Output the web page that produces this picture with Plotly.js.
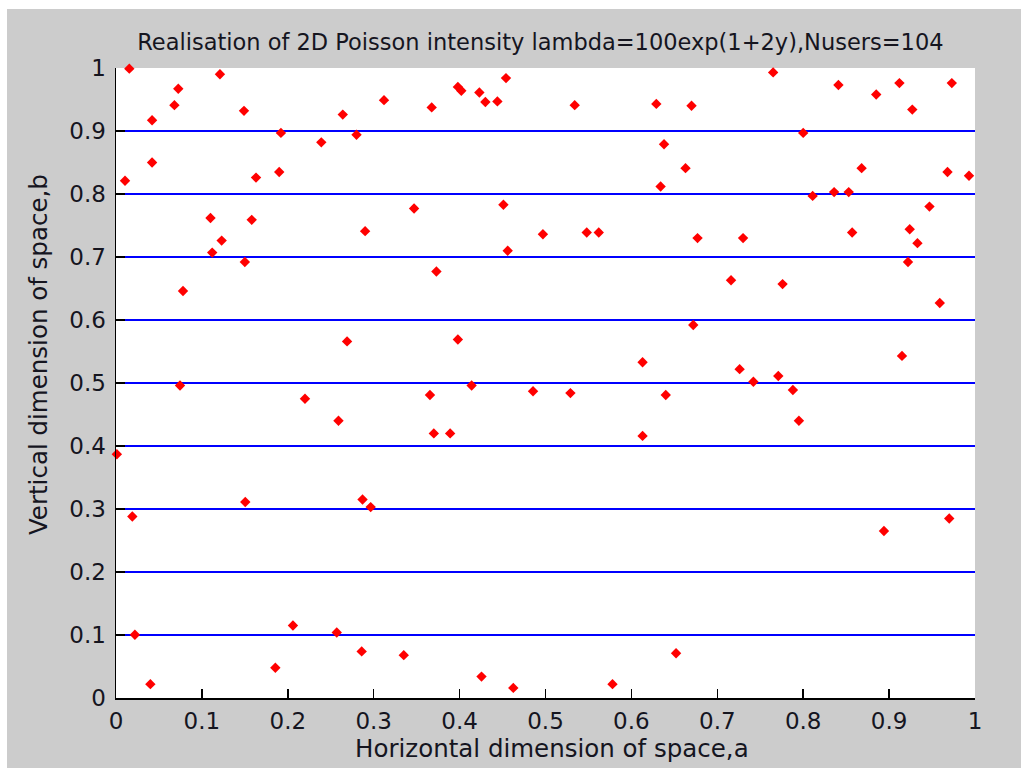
<!DOCTYPE html>
<html>
<head>
<meta charset="utf-8">
<script src="https://cdn.plot.ly/plotly-3.0.1.min.js"></script>
<style>
html,body{margin:0;padding:0;background:#ffffff;}
#chart{position:absolute;left:7px;top:9px;width:1014px;height:759px;}
</style>
</head>
<body>
<div id="chart"></div>
<script>
// Horizontal positions of the 104 users
const userX = [
  0.0155, 0.0105, 0.042, 0.042, 0.068, 0.0725, 0.121, 0.149, 0.192, 0.239,
  0.264, 0.280, 0.312, 0.190, 0.163, 0.110, 0.158, 0.123, 0.112, 0.150,
  0.290, 0.078, 0.269,
  0.454, 0.398, 0.402, 0.423, 0.430, 0.444, 0.3675, 0.534, 0.629, 0.670,
  0.638, 0.663, 0.634, 0.347, 0.451, 0.497, 0.548, 0.562, 0.456, 0.373,
  0.398, 0.613,
  0.765, 0.841, 0.885, 0.912, 0.973, 0.927, 0.800, 0.868, 0.968, 0.993,
  0.811, 0.836, 0.853, 0.947, 0.677, 0.730, 0.857, 0.924, 0.933, 0.922,
  0.716, 0.776, 0.959, 0.672, 0.915, 0.726, 0.771, 0.742,
  0.0745, 0.220, 0.259, 0.001, 0.1505, 0.287, 0.2965, 0.019, 0.022, 0.206,
  0.257, 0.286, 0.1855, 0.040, 0.335,
  0.414, 0.3655, 0.4855, 0.529, 0.640, 0.370, 0.389, 0.613, 0.652, 0.4255,
  0.4625, 0.578,
  0.788, 0.795, 0.894, 0.970
];
// Vertical positions of the 104 users
const userY = [
  0.999, 0.821, 0.917, 0.850, 0.941, 0.967, 0.990, 0.932, 0.897, 0.882,
  0.926, 0.894, 0.949, 0.835, 0.826, 0.762, 0.759, 0.726, 0.707, 0.692,
  0.741, 0.646, 0.566,
  0.984, 0.970, 0.964, 0.961, 0.946, 0.947, 0.9375, 0.941, 0.943, 0.940,
  0.879, 0.841, 0.812, 0.777, 0.783, 0.736, 0.739, 0.739, 0.710, 0.677,
  0.569, 0.533,
  0.993, 0.973, 0.958, 0.976, 0.976, 0.934, 0.897, 0.841, 0.835, 0.829,
  0.797, 0.803, 0.803, 0.780, 0.730, 0.730, 0.739, 0.744, 0.722, 0.692,
  0.663, 0.657, 0.627, 0.592, 0.543, 0.522, 0.511, 0.502,
  0.496, 0.475, 0.440, 0.387, 0.311, 0.315, 0.303, 0.288, 0.1005, 0.115,
  0.104, 0.074, 0.048, 0.022, 0.068,
  0.496, 0.481, 0.487, 0.484, 0.481, 0.420, 0.420, 0.416, 0.071, 0.034,
  0.016, 0.022,
  0.489, 0.440, 0.265, 0.285
];
// Horizontal reference lines
const gridLevels = [0.1, 0.2, 0.3, 0.4, 0.5, 0.6, 0.7, 0.8, 0.9];
// Tick values / labels
const xTickVals = [0, 0.1, 0.2, 0.3, 0.4, 0.5, 0.6, 0.7, 0.8, 0.9, 1];
const xTickText = ["0", "0.1", "0.2", "0.3", "0.4", "0.5", "0.6", "0.7", "0.8", "0.9", "1"];
const yTickVals = [0, 0.1, 0.2, 0.3, 0.4, 0.5, 0.6, 0.7, 0.8, 0.9, 1];
const yTickText = ["0", "0.1", "0.2", "0.3", "0.4", "0.5", "0.6", "0.7", "0.8", "0.9", "1"];

const gx = [], gy = [];
gridLevels.forEach(v => { gx.push(0, 1, null); gy.push(v, v, null); });

const FONT = "DejaVu Sans, Verdana, sans-serif";
const TXT = "#15151f";

const traces = [
  {
    x: gx, y: gy, type: "scatter", mode: "lines",
    line: {color: "#0000ff", width: 2},
    hoverinfo: "skip", showlegend: false
  },
  {
    x: userX, y: userY, type: "scatter", mode: "markers",
    marker: {symbol: "diamond", size: 8, color: "#ff0000", line: {width: 0}},
    showlegend: false, cliponaxis: false
  }
];

const layout = {
  width: 1014, height: 759,
  paper_bgcolor: "#cccccc",
  plot_bgcolor: "#ffffff",
  margin: {l: 109, r: 46, t: 59, b: 70, pad: 0},
  showlegend: false,
  title: {
    text: "Realisation of 2D Poisson intensity lambda=100exp(1+2y),Nusers=104",
    font: {family: FONT, size: 22.5, color: TXT},
    x: 0.494, xanchor: "center", xref: "paper",
    y: 1 - 33 / 759, yanchor: "middle", yref: "container"
  },
  xaxis: {
    range: [0, 1], autorange: false,
    tickmode: "array", tickvals: xTickVals, ticktext: xTickText,
    ticks: "inside", ticklen: 9, tickwidth: 1.5, tickcolor: "#000000",
    showline: true, linecolor: "#000000", linewidth: 1.5,
    showgrid: false, zeroline: false,
    tickfont: {family: FONT, size: 23, color: TXT},
    ticklabelstandoff: 2,
    fixedrange: true
  },
  yaxis: {
    range: [0, 1], autorange: false,
    tickmode: "array", tickvals: yTickVals, ticktext: yTickText,
    ticks: "inside", ticklen: 9, tickwidth: 1.5, tickcolor: "#000000",
    showline: true, linecolor: "#000000", linewidth: 1.5,
    showgrid: false, zeroline: false,
    tickfont: {family: FONT, size: 23, color: TXT},
    ticklabelstandoff: 4,
    fixedrange: true
  },
  annotations: [
    {
      text: "Horizontal dimension of space,a",
      xref: "paper", yref: "paper",
      x: 0.5076, y: (698 - 748) / 630,
      xanchor: "center", yanchor: "middle",
      showarrow: false,
      font: {family: FONT, size: 24.5, color: TXT}
    },
    {
      text: "Vertical dimension of space,b",
      xref: "paper", yref: "paper",
      x: (38 - 116) / 859, y: (698 - 355) / 630,
      xanchor: "center", yanchor: "middle",
      textangle: -90,
      showarrow: false,
      font: {family: FONT, size: 24.5, color: TXT}
    }
  ]
};

Plotly.newPlot("chart", traces, layout, {displayModeBar: false, staticPlot: true});
</script>
</body>
</html>
